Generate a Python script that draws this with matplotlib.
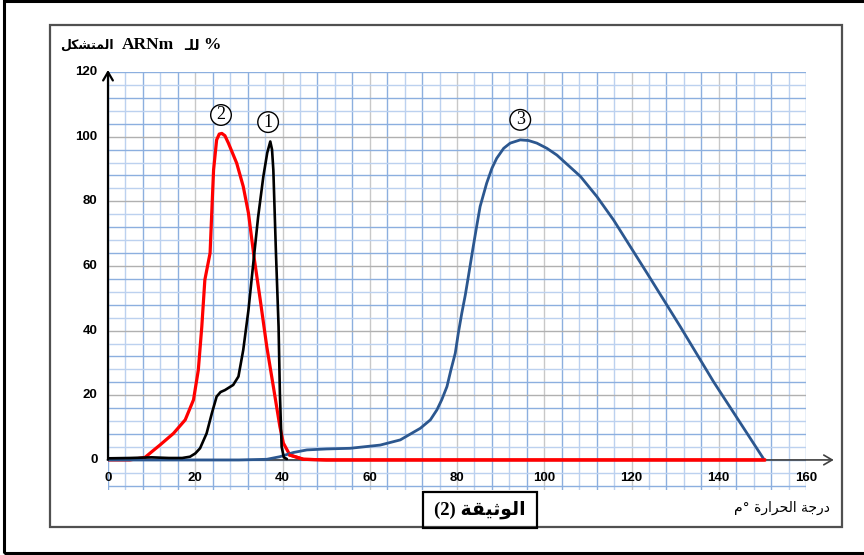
import matplotlib
matplotlib.use("Agg")
import matplotlib.pyplot as plt
from matplotlib.patches import Rectangle
import numpy as np

# ---------------- data ----------------
x_ticks = [0, 20, 40, 60, 80, 100, 120, 140, 160]
y_ticks = [0, 20, 40, 60, 80, 100, 120]

# curve 1 (black)
c1_x = [0, 5, 10, 14, 17, 18.8, 20, 21.1, 22.6, 23.8, 24.9, 25.8, 26.8, 28.7, 29.9,
        31.0, 32.2, 33.3, 34.4, 35.6, 36.5, 37.2, 37.6, 37.9, 38.5, 39.1, 39.4, 39.8, 40.3, 41.0]
c1_y = [0.5, 0.6, 0.8, 0.6, 0.6, 1.0, 2.0, 3.6, 8.2, 14.4, 19.6, 21.0, 21.6, 23.2, 25.8,
        34.0, 46.4, 60.8, 75.0, 87.6, 95.0, 98.5, 96.0, 89.7, 64.0, 41.2, 20.6, 4.1, 0.8, 0.3]

# curve 2 (red)
c2_x = [0, 5, 8.5, 10, 11.9, 15.0, 17.7, 19.6, 20.7, 21.5, 22.2, 23.4, 23.8, 24.2, 24.9,
        25.5, 26.1, 26.8, 27.6, 29.5, 31.0, 32.2, 33.5, 34.9, 36.4, 37.9, 39.4, 40.2, 41.7,
        44.8, 50, 150.5]
c2_y = [0, 0, 0.8, 2.5, 4.6, 8.2, 12.4, 18.6, 27.8, 41.2, 55.7, 64.0, 77.0, 89.7, 99.0,
        100.8, 101.0, 100.3, 98.0, 91.8, 84.6, 76.3, 62.5, 49.5, 35.0, 22.7, 10.3, 5.2, 1.5,
        0.2, 0, 0]

# curve 3 (blue)
c3_x = [0, 30, 36.4, 39.4, 42.5, 45.6, 50.1, 55.5, 62.4, 67, 71.6, 73.9, 75.4, 76.5, 77.7,
        78.6, 79.6, 80.3, 81.1, 81.9, 82.6, 83.6, 84.5, 85.3, 86.8, 88.0, 89.1, 90.7, 92.2,
        94.5, 96.4, 98.3, 100.6, 102.9, 108.3, 112.1, 115.9, 123.6, 131.2, 138.8, 146.5, 150.3]
c3_y = [0, 0, 0.2, 1.0, 2.3, 3.1, 3.4, 3.6, 4.6, 6.2, 9.8, 12.4, 15.5, 18.6, 22.7,
        27.8, 33.0, 39.2, 45.4, 51.0, 56.7, 65.0, 72.2, 78.4, 85.6, 90.2, 93.3, 96.4, 98.0,
        99.0, 98.8, 98.0, 96.4, 94.3, 87.7, 81.4, 74.2, 57.7, 41.2, 24.2, 8.2, 0.3]

curve_labels = ["1", "2", "3"]
label_pos = [(36.7, 104.5), (25.9, 106.7), (94.5, 105.2)]

# Arabic texts (presentation forms, visual order)
ar_formed = "\uFEDE\uFEDC\uFEB8\uFE98\uFEE4\uFEDF\uFE8D"          # المتشكل
ar_for = "\u0640\uFEE0\uFEDF"                                      # للـ
ar_temp = "\uFEE1\u00B0 \uFE93\uFEAD\uFE8D\uFEAE\uFEA4\uFEDF\uFE8D \uFE94\uFE9F\uFEAD\uFEA9"  # درجة الحرارة °م
ar_doc = "\uFE94\uFED8\uFEF4\uFE9B\uFEEE\uFEDF\uFE8D"             # الوثيقة

# ---------------- figure ----------------
W, H = 864, 555
fig = plt.figure(figsize=(W / 100, H / 100), dpi=100)

def fx(px):
    return px / W

def fy(py):
    return 1 - py / H

# frames
fig.add_artist(Rectangle((fx(4), fy(553)), fx(900) - fx(4), fy(1) - fy(553),
                         transform=fig.transFigure, fill=False, ec="black", lw=2.2))
fig.add_artist(Rectangle((fx(50), fy(527)), fx(842) - fx(50), fy(25) - fy(527),
                         transform=fig.transFigure, fill=False, ec="#505050", lw=1.6))

ymin = -9.3
ax = fig.add_axes([fx(108), fy(490), fx(806) - fx(108), fy(72) - fy(490)])
ax.set_xlim(0, 160)
ax.set_ylim(ymin, 120)
ax.axis("off")

# grid (graph paper)
blue_dark = "#8CAFDF"
blue_light = "#BCD1EF"
for gx in np.arange(0, 161, 4):
    if gx % 20 == 0 and gx not in (0, 160):
        col = "#C8C8C8"
    else:
        col = blue_dark if gx % 8 == 0 else blue_light
    ax.plot([gx, gx], [ymin, 120], color=col, lw=1.0, zorder=1)
for gy in np.arange(-8, 121, 4):
    if gy % 20 == 0 and gy not in (0, 120):
        col = "#B0B0B0"
    else:
        col = blue_dark if gy % 8 == 0 else blue_light
    ax.plot([0, 160], [gy, gy], color=col, lw=1.0, zorder=1)

# axes with arrows
ax.annotate("", xy=(167, 0), xytext=(-0.8, 0), annotation_clip=False,
            arrowprops=dict(arrowstyle="->,head_length=0.6,head_width=0.35", color="#404040", lw=1.2),
            zorder=2)
ax.annotate("", xy=(0, 121.5), xytext=(0, -0.8), annotation_clip=False,
            arrowprops=dict(arrowstyle="->,head_length=0.6,head_width=0.35", color="black", lw=1.6),
            zorder=6)

# curves
ax.plot(c2_x, c2_y, color="#FF0000", lw=2.3, zorder=3, solid_capstyle="round", solid_joinstyle="round")
ax.plot(c3_x, c3_y, color="#2C578F", lw=2.0, zorder=4, solid_capstyle="round", solid_joinstyle="round")
ax.plot(c1_x, c1_y, color="black", lw=1.9, zorder=5, solid_capstyle="round", solid_joinstyle="round")
# red baseline over blue beyond 42
ax.plot(c2_x[-4:], c2_y[-4:], color="#FF0000", lw=2.3, zorder=4.5)

# tick labels
for t in y_ticks:
    ax.text(-2.4, t, str(t), ha="right", va="center", fontsize=9.5, fontweight="bold",
            family="Liberation Sans", clip_on=False)
for t in x_ticks:
    ax.text(t, -5.5, str(t), ha="center", va="center", fontsize=9.5, fontweight="bold",
            family="Liberation Sans", clip_on=False, zorder=7)

# circled curve labels
for lab, (lx, ly) in zip(curve_labels, label_pos):
    ax.text(lx, ly, lab, ha="center", va="center", fontsize=13, family="Liberation Serif",
            zorder=8, bbox=dict(boxstyle="circle,pad=0.1", fc="white", ec="black", lw=1.0))

# title (y axis label)
fig.text(fx(114), fy(45), ar_formed, ha="right", va="center", fontsize=9, fontweight="bold",
         family=["DejaVu Sans"])
fig.text(fx(122), fy(45), "ARNm", ha="left", va="center", fontsize=12.5, fontweight="bold",
         family=["Liberation Serif"])
fig.text(fx(184), fy(46), ar_for, ha="left", va="center", fontsize=10, fontweight="bold",
         family=["DejaVu Sans"])
fig.text(fx(203), fy(45), "%", ha="left", va="center", fontsize=12.5, fontweight="bold",
         family=["Liberation Serif"])

# x axis label
fig.text(fx(830), fy(508), ar_temp, ha="right", va="center", fontsize=10,
         family=["DejaVu Sans"])

# document box
fig.text(fx(480), fy(510), "(2) " + ar_doc, ha="center", va="center", fontsize=13.5,
         fontweight="bold", family=["Liberation Serif", "DejaVu Sans"])
fig.add_artist(Rectangle((fx(423), fy(528)), fx(537) - fx(423), fy(492) - fy(528),
                         transform=fig.transFigure, fill=False, ec="black", lw=1.6))

fig.savefig("out.png", dpi=100)
